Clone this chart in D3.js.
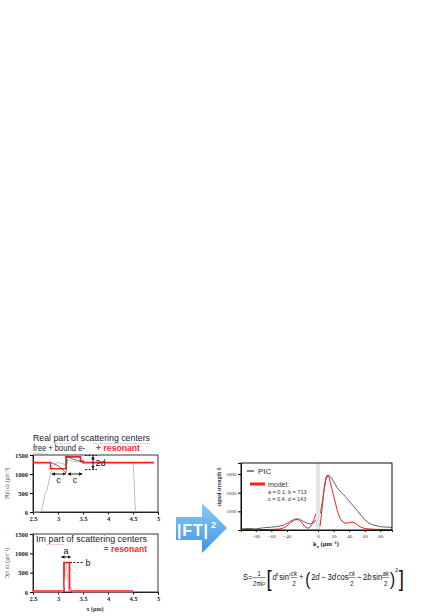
<!DOCTYPE html>
<html>
<head>
<meta charset="utf-8">
<script src="https://cdn.jsdelivr.net/npm/d3@7"></script>
<style>
  body { margin: 0; background: #fff; }
  svg text { font-family: "Liberation Sans", sans-serif; }
</style>
</head>
<body>
<div id="chart"></div>
<script>
// ---------- data ----------
// real part, PIC density (grey)
const reX   = [2.5, 2.62, 2.66, 2.69, 2.72, 2.74, 2.76, 2.78, 2.8, 2.83, 2.86, 2.9, 2.95, 3.0, 3.05, 3.1, 3.14, 3.17, 3.2, 3.25, 3.3, 3.4, 3.5, 3.6, 4.0, 4.4, 4.48, 4.5, 4.52, 4.54, 4.56]
const reY   = [0, 0, 20, 150, 350, 480, 520, 600, 700, 900, 1050, 1200, 1280, 1300, 1290, 1270, 1240, 1260, 1380, 1360, 1340, 1320, 1310, 1300, 1300, 1300, 1300, 1290, 900, 200, 0]
// real part, bound electrons (dark)
const boundX = [2.86, 2.92, 2.98, 3.04, 3.1, 3.14, 3.16, 3.18, 3.22, 3.28, 3.36, 3.44, 3.52]
const boundY = [1300, 1270, 1230, 1180, 1110, 1040, 1030, 1480, 1440, 1400, 1370, 1340, 1310]
// real part, resonant model (red steps)
const resReX = [2.5, 2.85, 3.16, 3.45, 3.5, 4.92]
const resReY = [1300, 1140, 1450, 1340, 1300, 1300]
// imaginary part
const imX    = [2.5, 3.08, 3.12, 3.17, 3.21, 3.23, 3.26, 3.29, 4.5]
const imY    = [0, 0, 100, 740, 100, 0, 130, 0, 0]
const resImX = [2.5, 3.12, 3.23, 4.5]
const resImY = [20, 760, 20, 20]
const xTicksL = [2.5, 3, 3.5, 4, 4.5, 5]
const yTicksL = [0, 500, 1000, 1500]

// Fourier side: k (µm^-1) vs signal strength S
const picK = [-99, -90, -80, -70, -60, -50, -45, -40, -35, -30, -27, -24, -20, -15, -10, -5, -3, null, 3, 5, 8, 10, 13, 16, 20, 25, 30, 35, 40, 45, 50, 55, 60, 65, 70, 80, 90, 95]
const picS = [60, 80, 60, 120, 150, 200, 250, 350, 480, 580, 600, 580, 480, 380, 320, 400, 550, null, 900, 1400, 2200, 2700, 2950, 2850, 2600, 2250, 2000, 1800, 1550, 1300, 1050, 800, 550, 380, 280, 180, 150, 140]
const modK = [-99, -80, -60, -50, -45, -40, -35, -30, -27, -24, -20, -17, -14, -11, -8, -5, -3, null, 2.5, 4, 6, 8, 10, 12, 14, 16, 19, 22, 25, 28, 31, 35, 39, 43, 47, 51, 55, 60, 70, 80, 95]
const modS = [20, 20, 30, 50, 100, 220, 400, 540, 560, 520, 350, 180, 100, 120, 300, 600, 850, null, 200, 700, 1500, 2300, 2800, 2950, 2850, 2500, 2000, 1500, 1000, 650, 450, 360, 380, 420, 380, 260, 150, 80, 40, 30, 20]
const gapK = [-2.6, 2.6]
const xTicksR = [-80, -60, -40, 0, 20, 40, 60, 80]
const yTicksR = [1000, 2000, 3000]

const RED = "#ff1f1f"
const GREY = "#a9bab2"
const DARK = "#3a3a3a"

const svg = d3.select("#chart").append("svg")
  .attr("width", 436)
  .attr("height", 616)

// ---------- left panels ----------
const xL = d3.scaleLinear().domain([2.5, 5]).range([33, 158])
const yTop = d3.scaleLinear().domain([0, 1500]).range([512, 455])
const yBot = d3.scaleLinear().domain([0, 1500]).range([592, 534])

function zip(xs, ys) { return xs.map((x, i) => ({ x: x, y: ys[i] })) }

function leftPanel(y, yLabel) {
  const g = svg.append("g")
  g.append("rect")
    .attr("x", xL(2.5)).attr("y", y(1500))
    .attr("width", xL(5) - xL(2.5)).attr("height", y(0) - y(1500))
    .attr("fill", "none").attr("stroke", "#222").attr("stroke-width", 0.9)
  const ax = g.append("g")
    .attr("transform", `translate(${xL(2.5)},0)`)
    .call(d3.axisLeft(y).tickValues(yTicksL).tickSize(3).tickPadding(2).tickFormat(d3.format("d")))
  const bx = g.append("g")
    .attr("transform", `translate(0,${y(0)})`)
    .call(d3.axisBottom(xL).tickValues(xTicksL).tickSize(2.5).tickPadding(2).tickFormat(d3.format("")))
  for (const a of [ax, bx]) {
    a.select(".domain").attr("stroke", "#222")
    a.selectAll("text").attr("font-size", "6.5px").attr("font-weight", "bold")
      .attr("fill", "#222").style("font-family", "Liberation Serif")
  }
  g.append("text")
    .attr("transform", `translate(9,${(y(0) + y(1500)) / 2}) rotate(-90)`)
    .attr("text-anchor", "middle")
    .attr("font-size", "5.5px").attr("fill", "#444")
    .style("font-family", "Liberation Serif")
    .text(yLabel)
  return g
}

const gTop = leftPanel(yTop, "ℜ∫n dz (μm⁻²)")
const gBot = leftPanel(yBot, "ℑ∫n dz (μm⁻²)")

const lineTop = d3.line().x(d => xL(d.x)).y(d => yTop(d.y))
const lineBot = d3.line().x(d => xL(d.x)).y(d => yBot(d.y))

gTop.append("path").datum(zip(reX, reY))
  .attr("d", lineTop).attr("fill", "none").attr("stroke", GREY).attr("stroke-width", 0.9)
gTop.append("path").datum(zip(resReX, resReY))
  .attr("d", lineTop.curve(d3.curveStepAfter)).attr("fill", "none").attr("stroke", RED).attr("stroke-width", 1.6)
lineTop.curve(d3.curveLinear)
gTop.append("path").datum(zip(boundX, boundY))
  .attr("d", lineTop).attr("fill", "none").attr("stroke", DARK).attr("stroke-width", 0.7)

gBot.append("path").datum(zip(resImX, resImY))
  .attr("d", lineBot.curve(d3.curveStepAfter)).attr("fill", "none").attr("stroke", RED).attr("stroke-width", 1.8)
lineBot.curve(d3.curveLinear)
gBot.append("path").datum(zip(imX, imY))
  .attr("d", lineBot).attr("fill", "none").attr("stroke", GREY).attr("stroke-width", 0.8)

// titles
const t1 = svg.append("g").style("font-family", "Lato")
t1.append("text").attr("x", 33).attr("y", 441).attr("font-size", "9px").attr("fill", "#1a1a2e")
  .attr("textLength", 117).attr("lengthAdjust", "spacingAndGlyphs")
  .text("Real part of scattering centers")
t1.append("text").attr("x", 33).attr("y", 451).attr("font-size", "9px").attr("fill", "#1a1a2e")
  .attr("textLength", 52).attr("lengthAdjust", "spacingAndGlyphs")
  .text("free + bound e-")
t1.append("text").attr("x", 96).attr("y", 451).attr("font-size", "9px").attr("fill", RED)
  .attr("font-weight", "bold").attr("textLength", 44).attr("lengthAdjust", "spacingAndGlyphs")
  .text("+ resonant")
t1.append("text").attr("x", 36).attr("y", 542).attr("font-size", "8.5px").attr("fill", "#1a1a2e")
  .attr("textLength", 111).attr("lengthAdjust", "spacingAndGlyphs")
  .text("Im part of scattering centers")
t1.append("text").attr("x", 147).attr("y", 551.5).attr("font-size", "8.5px").attr("fill", RED)
  .attr("font-weight", "bold").attr("text-anchor", "end")
  .text("= resonant")

// spell-check squiggles from the original slide
const squig = [[55, 70, 443.5], [93, 150, 443.5], [33, 47, 453.5], [47, 64, 544.5]]
svg.append("g").selectAll("line").data(squig).join("line")
  .attr("x1", d => d[0]).attr("x2", d => d[1]).attr("y1", d => d[2]).attr("y2", d => d[2])
  .attr("stroke", "#e05050").attr("stroke-width", 0.6).attr("stroke-dasharray", "1,0.8").attr("opacity", 0.8)

// annotations
svg.append("defs").html(`
  <marker id="ah" viewBox="0 0 6 6" refX="5" refY="3" markerWidth="4" markerHeight="4" orient="auto-start-reverse">
    <path d="M0,0 L6,3 L0,6 z" fill="#111"/></marker>
  <linearGradient id="arrowFill" x1="0" y1="0" x2="0" y2="1">
    <stop offset="0" stop-color="#8fcaf6"/><stop offset="1" stop-color="#3d95e3"/></linearGradient>`)

const ann = svg.append("g").attr("stroke", "#111").attr("stroke-width", 0.9).attr("fill", "none")
ann.append("line").attr("x1", 52).attr("x2", 65.5).attr("y1", 474).attr("y2", 474)
  .attr("marker-start", "url(#ah)").attr("marker-end", "url(#ah)")
ann.append("line").attr("x1", 68).attr("x2", 82).attr("y1", 474).attr("y2", 474)
  .attr("marker-start", "url(#ah)").attr("marker-end", "url(#ah)")
ann.append("line").attr("x1", 85).attr("x2", 97).attr("y1", 455.5).attr("y2", 455.5).attr("stroke-dasharray", "2.2,1.3")
ann.append("line").attr("x1", 85).attr("x2", 97).attr("y1", 469.5).attr("y2", 469.5).attr("stroke-dasharray", "2.2,1.3")
ann.append("line").attr("x1", 93).attr("x2", 93).attr("y1", 456.5).attr("y2", 468.5)
  .attr("marker-start", "url(#ah)").attr("marker-end", "url(#ah)")
ann.append("line").attr("x1", 61.5).attr("x2", 70.5).attr("y1", 557).attr("y2", 557)
  .attr("marker-start", "url(#ah)").attr("marker-end", "url(#ah)")
ann.append("line").attr("x1", 70).attr("x2", 84).attr("y1", 562.5).attr("y2", 562.5).attr("stroke-dasharray", "2.2,1.3")

const annT = svg.append("g").style("font-family", "Lato").attr("font-size", "9px").attr("fill", "#111")
annT.append("text").attr("x", 58.5).attr("y", 482.5).attr("text-anchor", "middle").text("c")
annT.append("text").attr("x", 75).attr("y", 482.5).attr("text-anchor", "middle").text("c")
annT.append("text").attr("x", 95.5).attr("y", 466).text("2d")
annT.append("text").attr("x", 66).attr("y", 554).attr("text-anchor", "middle").text("a")
annT.append("text").attr("x", 85.5).attr("y", 565.5).text("b")

svg.append("text").attr("x", 95).attr("y", 611).attr("text-anchor", "middle")
  .attr("font-size", "6px").attr("font-weight", "bold").attr("fill", "#333")
  .style("font-family", "Liberation Serif").text("x (μm)")

// ---------- |FT|^2 arrow ----------
const arrowPts = [[176, 517], [202, 517], [202, 503], [227, 528], [202, 553], [202, 540], [176, 540]]
svg.append("polygon").attr("points", arrowPts.map(p => p.join(",")).join(" "))
  .attr("fill", "url(#arrowFill)")
svg.append("text").attr("x", 177).attr("y", 535.5).attr("fill", "#fff")
  .attr("font-size", "16px").attr("font-weight", "bold")
  .attr("textLength", 31).attr("lengthAdjust", "spacing").text("|FT|")
svg.append("text").attr("x", 211).attr("y", 527.5).attr("fill", "#fff")
  .attr("font-size", "9px").attr("font-weight", "bold").text("2")

// ---------- right panel ----------
const xR = d3.scaleLinear().domain([-99, 95]).range([241, 392])
const yR = d3.scaleLinear().domain([0, 3590]).range([530, 463])
const gR = svg.append("g")

gR.append("rect").attr("x", xR(gapK[0])).attr("y", yR(3590))
  .attr("width", xR(gapK[1]) - xR(gapK[0])).attr("height", yR(0) - yR(3590))
  .attr("fill", "#dfe7ec")

const lineR = d3.line().defined(d => d.y != null).x(d => xR(d.x)).y(d => yR(d.y))
gR.append("path").datum(zip(picK, picS))
  .attr("d", lineR).attr("fill", "none").attr("stroke", DARK).attr("stroke-width", 0.8)
gR.append("path").datum(zip(modK, modS))
  .attr("d", lineR).attr("fill", "none").attr("stroke", RED).attr("stroke-width", 1)

gR.append("rect").attr("x", 241).attr("y", 463).attr("width", 151).attr("height", 67)
  .attr("fill", "none").attr("stroke", "#111").attr("stroke-width", 1)
const rax = gR.append("g").attr("transform", "translate(241,0)")
  .call(d3.axisLeft(yR).tickValues(yTicksR).tickSize(3).tickPadding(1.5).tickFormat(d3.format("d")))
const rbx = gR.append("g").attr("transform", "translate(0,530)")
  .call(d3.axisBottom(xR).tickValues(xTicksR).tickSize(2).tickPadding(2))
for (const a of [rax, rbx]) {
  a.select(".domain").attr("stroke", "#111")
  a.selectAll("text").attr("font-size", "5px").attr("fill", "#333").style("font-family", "Liberation Serif")
}
gR.append("text")
  .attr("transform", "translate(221,487) rotate(-90)").attr("text-anchor", "middle")
  .attr("font-size", "5.5px").attr("font-weight", "bold").attr("fill", "#333")
  .style("font-family", "Liberation Serif").text("signal strength S")
const kl = gR.append("text").attr("x", 326).attr("y", 546).attr("text-anchor", "middle")
  .attr("font-size", "6.5px").attr("font-weight", "bold").attr("fill", "#222")
  .style("font-family", "Liberation Serif")
kl.append("tspan").text("k")
kl.append("tspan").attr("font-size", "4.5px").attr("dy", 1.5).text("x")
kl.append("tspan").attr("dy", -1.5).text(" (μm")
kl.append("tspan").attr("font-size", "4.5px").attr("dy", -2.5).text("−1")
kl.append("tspan").attr("dy", 2.5).text(")")

// legend
const lg = gR.append("g").attr("fill", "#333")
lg.append("line").attr("x1", 247).attr("x2", 254).attr("y1", 471).attr("y2", 471)
  .attr("stroke", DARK).attr("stroke-width", 1.2)
lg.append("text").attr("x", 258).attr("y", 474).attr("font-size", "8px").text("PIC")
lg.append("line").attr("x1", 250).attr("x2", 265).attr("y1", 484).attr("y2", 484)
  .attr("stroke", RED).attr("stroke-width", 3)
lg.append("text").attr("x", 268).attr("y", 487).attr("font-size", "7px").text("model:")
lg.append("text").attr("x", 268).attr("y", 493.5).attr("font-size", "5.5px").text("a = 0.1, b = 713")
lg.append("text").attr("x", 268).attr("y", 500.5).attr("font-size", "5.5px").text("c = 0.4, d = 143")

// ---------- formula ----------
const fg = svg.append("g").style("font-family", "Liberation Serif").attr("fill", "#111")
const fInner = fg.append("g")
let cx = 0
function put(str, o = {}) {
  const t = fInner.append("text").attr("x", cx + (o.dx || 0)).attr("y", o.dy || 0)
    .attr("font-size", (o.size || 9) + "px")
    .attr("font-style", o.it ? "italic" : "normal")
    .text(str)
  const w = t.node().getComputedTextLength()
  cx += w + (o.dx || 0)
  return t
}
function frac(num, den, it) {
  const x0 = cx
  const a = fInner.append("text").attr("y", -4).attr("font-size", "7px").attr("font-style", it ? "italic" : "normal").text(num)
  const b = fInner.append("text").attr("y", 5.5).attr("font-size", "7px").text(den)
  const w = Math.max(a.node().getComputedTextLength(), b.node().getComputedTextLength()) + 1
  a.attr("x", x0 + w / 2).attr("text-anchor", "middle")
  b.attr("x", x0 + w / 2).attr("text-anchor", "middle")
  fInner.append("line").attr("x1", x0).attr("x2", x0 + w).attr("y1", -2.5).attr("y2", -2.5)
    .attr("stroke", "#111").attr("stroke-width", 0.5)
  cx += w + 1
}
put("S=")
frac("1", "2πk²")
put("[", { size: 22, dy: 6 })
put("d", { it: true, dx: 1 }); put("²", { size: 6, dy: -3 })
put(" sin", { dx: 1 }); put("²", { size: 6, dy: -3 })
frac("ck", "2", true)
put("+", { dx: 1 })
put("(", { size: 18, dy: 5, dx: 2 })
put("2", { dx: 1 }); put("d", { it: true })
put("−", { dx: 2 })
put("3", { dx: 2 }); put("d", { it: true }); put(" cos", { dx: 1 })
frac("ck", "2", true)
put("−", { dx: 1 })
put("2", { dx: 2 }); put("b", { it: true }); put(" sin", { dx: 1 })
frac("ak", "2", true)
put(")", { size: 18, dy: 5 })
put("2", { size: 6, dy: -8 })
put("]", { size: 22, dy: 6, dx: 1 })
const fW = cx
const fx0 = 243, fx1 = 404
fInner.attr("transform", `translate(${fx0},580) scale(${(fx1 - fx0) / fW},1)`)
</script>
</body>
</html>
